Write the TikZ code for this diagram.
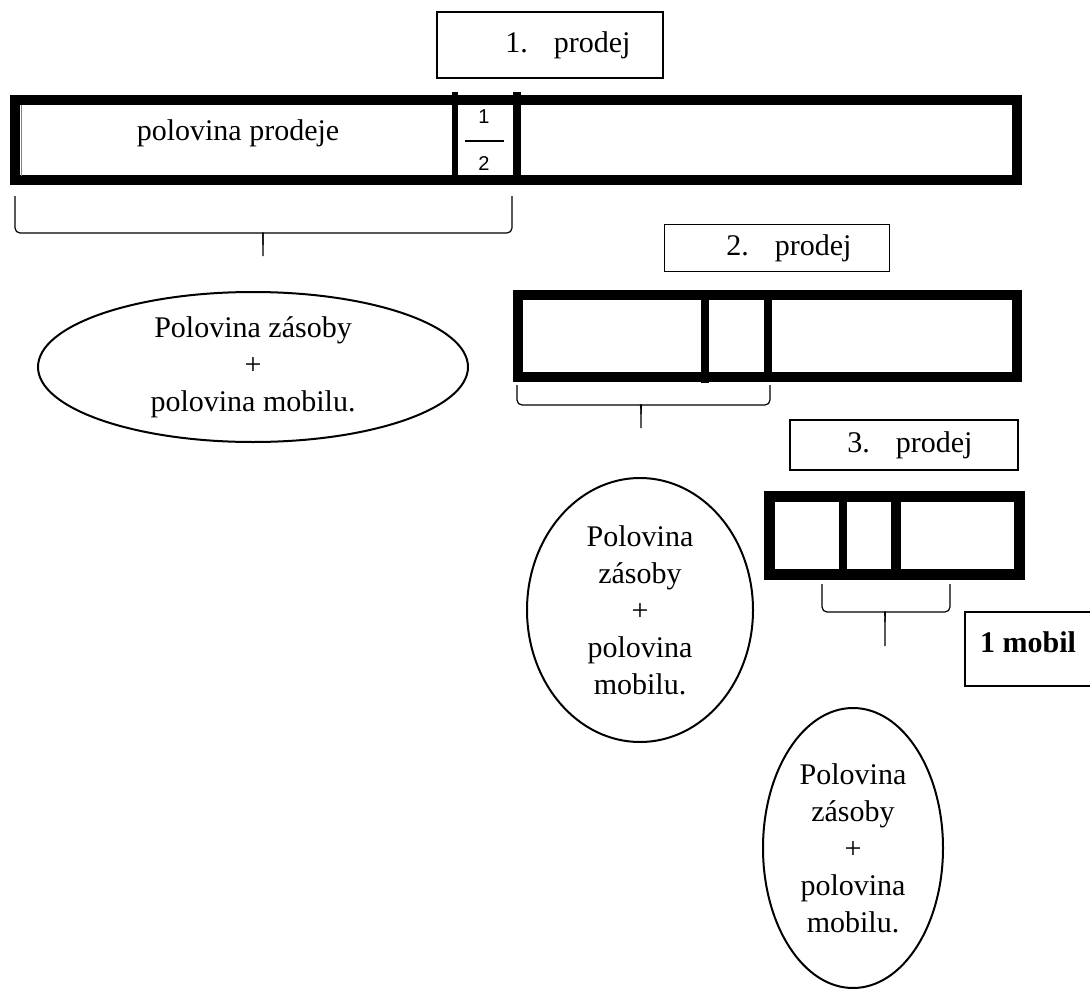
\documentclass[tikz,border=0pt]{standalone}
\usepackage{fontspec}
\setmainfont{Liberation Serif}
\newfontfamily\sansf{Liberation Sans}
\usetikzlibrary{shapes.geometric}
\begin{document}
\begin{tikzpicture}[x=1pt,y=-1pt,
 lbl/.style={draw, line width=1.3pt, inner sep=0pt, font=\fontsize{30}{37}\selectfont},
 bar/.style={draw, line width=10pt, inner sep=0pt},
 brace/.style={line width=1.2pt, rounded corners=5pt},
 oval/.style={draw, ellipse, line width=2pt, inner sep=0pt, align=center, font=\fontsize{30}{37}\selectfont},
 txt/.style={font=\fontsize{30}{37}\selectfont},
 frac/.style={font=\sansf\fontsize{20}{22}\selectfont, inner sep=0pt}]
\useasboundingbox (0,0) rectangle (1090,990);

% labels
\node[lbl, minimum width=226, minimum height=66] (l1) at (550,45) {\hspace*{36pt}1.\hspace{26pt}prodej};
\node[lbl, minimum width=225, minimum height=47] (l2) at (777,248) {\hspace*{24pt}2.\hspace{26pt}prodej};
\node[lbl, minimum width=228, minimum height=50] (l3) at (904,445) {\hspace*{12pt}3.\hspace{26pt}prodej};

% bar 1
\node[bar, minimum width=1002, minimum height=80] (b1) at (516,140) {};
\draw[line width=6pt] (455,92) coordinate (d1a) -- (455,181) coordinate (d1b);
\draw[line width=8pt] (517,92) coordinate (d2a) -- (517,181) coordinate (d2b);
\draw[gray, line width=1pt] (21,105) -- (21,176);
\node[txt] (t1) at (238,133) {polovina prodeje};
\node[frac] (f1) at (484,117) {1};
\node[frac] (f2) at (484,164) {2};
\draw[line width=2.5pt] (465,141) coordinate (fl) -- (504,141) coordinate (fr);

% brace 1
\draw[brace] (15,196) |- (258,233) to[out=0,in=90] (263,245) -- (263,256) coordinate (s1);
\draw[brace] (512,196) |- (268,233) to[out=180,in=90] (263,245);

\node[oval, minimum width=430, minimum height=150] (e1) at (253,367) {Polovina zásoby\\+\\polovina mobilu.};

% bar 2
\node[bar, minimum width=499, minimum height=82] (b2) at (767.5,336) {};
\draw[line width=8pt] (705,292) coordinate (d3a) -- (705,383) coordinate (d3b);
\draw[line width=8pt] (768,292) coordinate (d4a) -- (768,380) coordinate (d4b);

% brace 2
\draw[brace] (517,385) |- (636,405) to[out=0,in=90] (641,414) -- (641,428) coordinate (s2);
\draw[brace] (770,385) |- (646,405) to[out=180,in=90] (641,414);

\node[oval, minimum width=226, minimum height=264] (e2) at (640,610) {Polovina\\zásoby\\+\\polovina\\mobilu.};

% bar 3
\node[bar, line width=11pt, minimum width=250, minimum height=78] (b3) at (894,535) {};
\draw[line width=8pt] (843,492) coordinate (d5a) -- (843,578) coordinate (d5b);
\draw[line width=10pt] (896,492) coordinate (d6a) -- (896,578) coordinate (d6b);

% brace 3
\draw[brace] (822,584) |- (880,612) to[out=0,in=90] (885,622) -- (885,646) coordinate (s3);
\draw[brace] (950,584) |- (890,612) to[out=180,in=90] (885,622);

\node[oval, minimum width=180, minimum height=280] (e3) at (853,848) {Polovina\\zásoby\\+\\polovina\\mobilu.};

% 1 mobil
\node[draw, line width=1.3pt, minimum width=130, minimum height=74, inner sep=0pt] (m) at (1030,649) {};
\node[txt, font=\bfseries\fontsize{30}{37}\selectfont] (mt) at (1028,642) {1 mobil};
\end{tikzpicture}
\end{document}
